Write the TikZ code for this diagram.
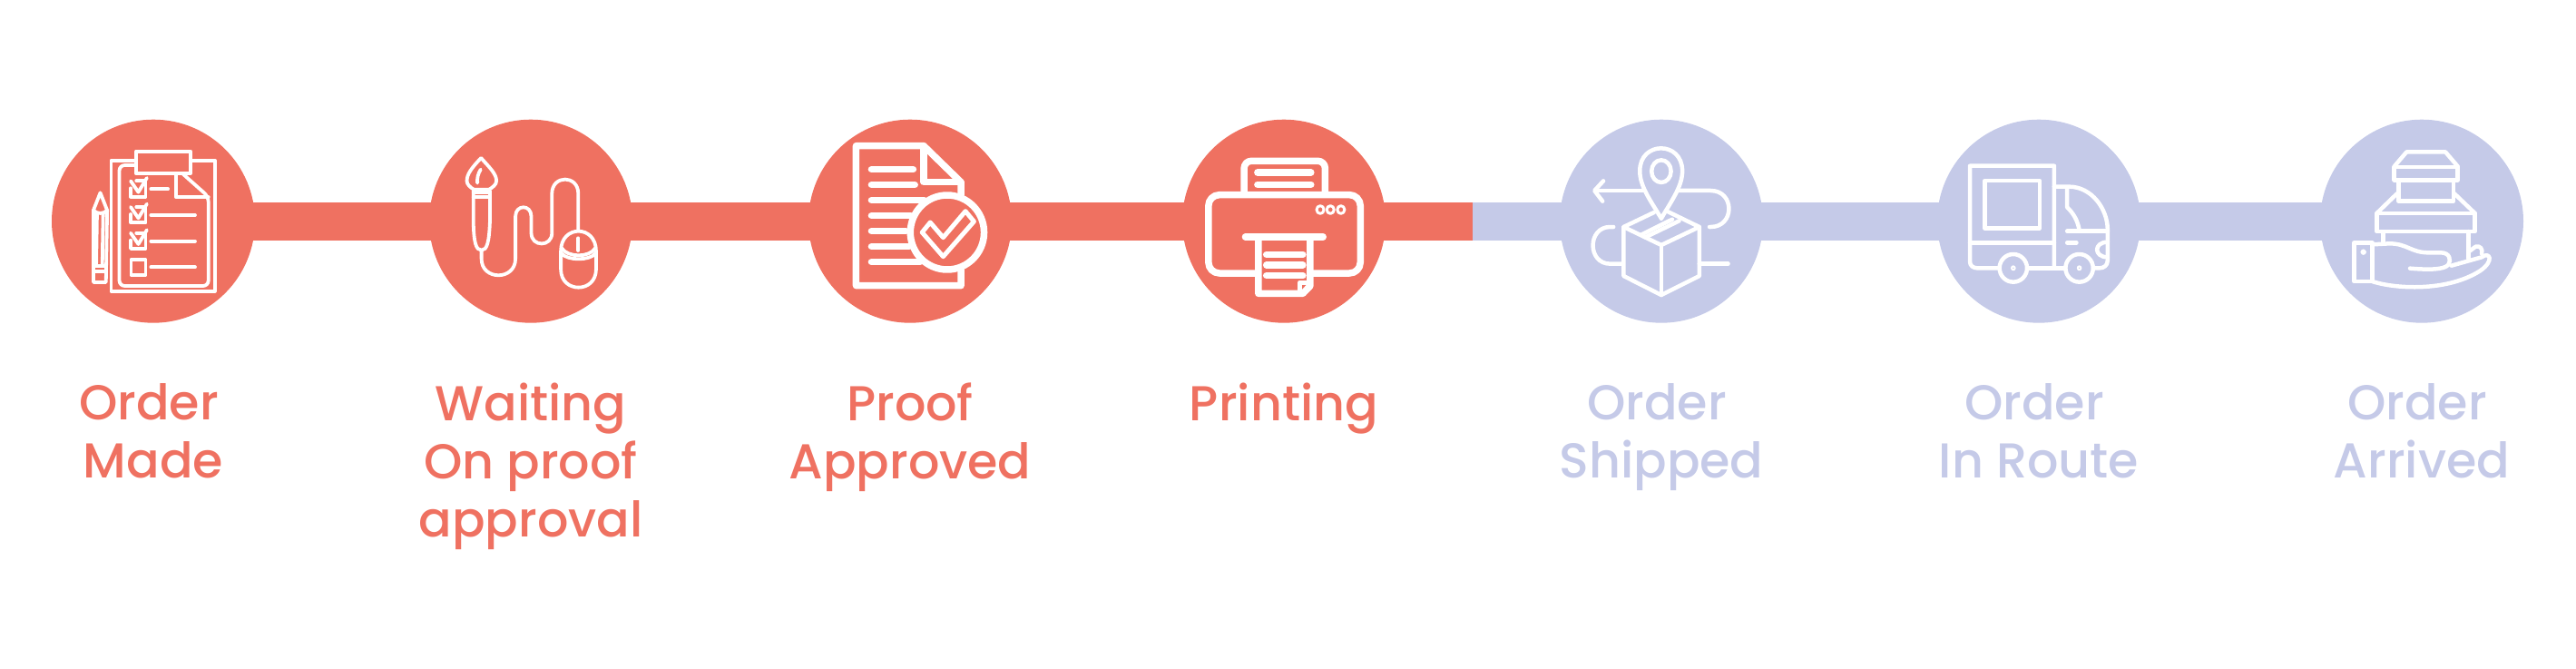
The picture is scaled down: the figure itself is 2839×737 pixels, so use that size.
\documentclass[tikz,border=0pt]{standalone}
\usepackage{fontspec}
\setmainfont{Poppins Medium}
\definecolor{doneRed}{HTML}{EF7161}
\definecolor{todoBlue}{HTML}{C5CAE8}
\tikzset{
  stepdot/.style={circle, minimum size=112pt, inner sep=0pt, fill=#1},
  stepbar/.style={draw=#1, line width=21pt},
  steplabel/.style={anchor=north, inner sep=0pt, align=center, text=#1, font=\fontsize{27pt}{32pt}\selectfont},
  wideicon/.style={x=0.2232pt, y=-0.16667pt},
  flaticon/.style={x=0.16667pt, y=-0.16667pt},
  iconline/.style={draw=white, line width=#1, line join=round, line cap=round},
  iconline/.default=1.75pt
}
\newcommand{\ordword}{Order\hspace*{5pt}}
\begin{document}
\begin{tikzpicture}[x=0.5pt, y=-0.5pt, node distance=208pt]
\useasboundingbox (0,0) rectangle (2839,737);
\node[stepdot=doneRed] (made) at (169,243.7) {};
\node[stepdot=doneRed] (wait) [right of=made] {};
\node[stepdot=doneRed] (proof) [right of=wait, xshift=1pt] {};
\node[stepdot=doneRed] (print) [right of=proof, xshift=-2pt] {};
\node[stepdot=todoBlue] (ship) [right of=print] {};
\node[stepdot=todoBlue] (route) [right of=ship] {};
\node[stepdot=todoBlue] (arrive) [right of=route, xshift=3pt] {};
\coordinate (split) at (1623,243.7);
\draw[stepbar=doneRed] (made.center) -- (wait.center);
\draw[stepbar=doneRed] (wait.center) -- (proof.center);
\draw[stepbar=doneRed] (proof.center) -- (print.center);
\draw[stepbar=doneRed] (print.center) -- (split);
\draw[stepbar=todoBlue] (split) -- (ship.center);
\draw[stepbar=todoBlue] (ship.center) -- (route.center);
\draw[stepbar=todoBlue] (route.center) -- (arrive.center);
\begin{scope}[node distance=89pt]
\node (madetxt) [below of=made, steplabel=doneRed] {\ordword\\Made};
\node (waittxt) [below of=wait, steplabel=doneRed] {Waiting\\On proof\\approval};
\node (prooftxt) [below of=proof, steplabel=doneRed] {Proof\\Approved};
\node (printtxt) [below of=print, steplabel=doneRed] {Printing};
\node (shiptxt) [below of=ship, steplabel=todoBlue] {\ordword\\Shipped};
\node (routetxt) [below of=route, steplabel=todoBlue] {\ordword\\In Route};
\node (arrivetxt) [below of=arrive, steplabel=todoBlue] {\ordword\\Arrived};
\end{scope}
\begin{scope}[shift={(40,110)}, wideicon, iconline=1.9pt]
\draw (246,200) -- (185,200) -- (185,632) -- (441,632) -- (441,200) -- (381,200);
\draw (246,170) rectangle (381,243);
\draw[rounded corners=3pt] (246,216) -- (205,216) -- (205,615) -- (425,615) -- (425,320) -- (362,245);
\draw (345,245) -- (345,322) -- (425,322);
\foreach \dy in {0,86,172} {
  \draw (247,268+\dy) -- (270,268+\dy) -- (270,320+\dy) -- (233,320+\dy) -- (233,292+\dy);
  \draw (233,268+\dy) -- (252,305+\dy) -- (273,258+\dy);
}
\draw (283,295) -- (325,295);
\foreach \ly in {381,467,553} \draw (283,\ly) -- (392,\ly);
\draw (234,528) rectangle (270,578);
\draw (141,365) -- (158,307) -- (175,365) -- (172,603) -- (141,603) -- cycle;
\draw (141,365) .. controls (150,378) and (166,378) .. (175,365);
\draw (150,375) -- (148,545);
\draw (165,375) -- (163,545);
\draw (141,548) -- (172,548);
\draw (141,568) -- (172,568);
\draw (1098,192) .. controls (1075,225) and (1063,245) .. (1063,268) .. controls (1063,280) and (1072,290) .. (1080,296) -- (1118,296) .. controls (1126,290) and (1136,280) .. (1136,268) .. controls (1136,245) and (1120,225) .. (1098,192);
\draw (1097,230) .. controls (1090,245) and (1088,260) .. (1089,275);
\draw (1079,300) -- (1079,400) .. controls (1080,470) and (1085,497) .. (1099,497) .. controls (1113,497) and (1118,470) .. (1120,400) -- (1120,300);
\draw (1079,305) -- (1120,305);
\draw (1079,322) -- (1120,322);
\draw (1099,497) -- (1099,525) .. controls (1099,598) and (1183,598) .. (1183,525) -- (1183,385) .. controls (1183,345) and (1222,345) .. (1222,385) -- (1222,440) .. controls (1222,487) and (1273,487) .. (1273,440) -- (1273,310) .. controls (1273,247) and (1338,247) .. (1338,310) -- (1338,432);
\draw (1295,500) .. controls (1295,412) and (1382,412) .. (1382,500) -- (1382,560) .. controls (1382,640) and (1295,640) .. (1295,560) -- cycle;
\draw (1338,457) -- (1338,498);
\draw (1297,490) .. controls (1312,522) and (1366,522) .. (1380,490);
\draw (1297,508) .. controls (1312,532) and (1366,532) .. (1380,508);
\end{scope}
\begin{scope}[shift={(860,110)}, wideicon, iconline=3.75pt]
\draw (446,315) -- (446,272) -- (354,152) -- (187,152) -- (187,614) -- (446,614) -- (446,561);
\draw (354,152) -- (354,272) -- (446,272);
\draw (225,230) -- (328,230);
\draw (225,281) -- (332,281);
\draw (225,332) -- (355,332);
\draw (225,383) -- (322,383);
\draw (225,434) -- (310,434);
\draw (225,485) -- (318,485);
\draw (225,536) -- (345,536);
\draw (412,438) ellipse[x radius=91, y radius=123];
\draw[line width=2.5pt] (370,405) -- (402,455) -- (457,368) -- (478,402) -- (402,518) -- (350,438) -- cycle;
\draw[rounded corners=4pt] (1145,312) -- (1145,202) -- (1345,202) -- (1345,312);
\draw (1178,240) -- (1310,240);
\draw (1178,280) -- (1310,280);
\draw[rounded corners=6pt] (1178,573) -- (1057,573) -- (1057,314) -- (1432,314) -- (1432,573) -- (1308,573);
\draw[line width=1.5pt] (1333,363) ellipse[x radius=9, y radius=13];
\draw[line width=1.5pt] (1358,363) ellipse[x radius=9, y radius=13];
\draw[line width=1.5pt] (1384,363) ellipse[x radius=9, y radius=13];
\draw (1148,453) -- (1340,453);
\draw (1180,462) -- (1180,640) -- (1290,640) -- (1308,615) -- (1308,462);
\draw[line width=2.5pt] (1308,603) -- (1282,603) -- (1282,632);
\draw (1200,511) -- (1290,511);
\draw (1200,546) -- (1290,546);
\draw (1200,581) -- (1290,581);
\end{scope}
\begin{scope}[shift={(1680,110)}, wideicon, iconline=2.25pt]
\draw (338,392) .. controls (310,330) and (285,285) .. (285,235) .. controls (285,135) and (390,135) .. (390,235) .. controls (390,285) and (365,330) .. (338,392);
\draw (338,236) ellipse[x radius=24, y radius=37];
\draw (295,300) -- (175,300);
\draw (195,268) -- (173,300) -- (193,335);
\draw (383,300) -- (460,300) .. controls (520,300) and (520,420) .. (460,420) -- (457,420);
\draw (220,420) -- (212,420) .. controls (155,420) and (155,542) .. (212,542) -- (243,542);
\draw (432,542) -- (503,542);
\draw (320,372) -- (245,420) -- (338,480) -- (432,420) -- (355,370);
\draw (245,420) -- (245,582) -- (338,645) -- (432,582) -- (432,420);
\draw (338,480) -- (338,645);
\draw (290,445) -- (365,395);
\draw (302,452) -- (382,400);
\draw (1170,556) -- (1118,556) .. controls (1108,556) and (1100,548) .. (1100,535) -- (1100,218) -- (1308,218) -- (1308,548);
\draw (1100,472) -- (1308,472);
\draw (1137,267) rectangle (1272,425);
\draw (1308,287) -- (1345,287) .. controls (1400,287) and (1440,360) .. (1440,430) -- (1440,530) .. controls (1440,548) and (1430,556) .. (1420,556) -- (1408,556);
\draw (1243,556) -- (1335,556);
\draw (1340,290) -- (1340,355) .. controls (1355,375) and (1365,395) .. (1370,430);
\draw (1340,434) -- (1440,434);
\draw (1340,472) -- (1363,472);
\draw (1440,470) .. controls (1405,470) and (1405,520) .. (1440,520);
\draw (1207,556) ellipse[x radius=34, y radius=46];
\draw (1370,556) ellipse[x radius=34, y radius=46];
\draw[line width=1pt] (1207,556) ellipse[x radius=4, y radius=6];
\draw[line width=1pt] (1370,556) ellipse[x radius=4, y radius=6];
\end{scope}
\begin{scope}[shift={(2400,110)}, flaticon, iconline=2.25pt]
\draw (716,265) rectangle (926,222);
\draw (716,220) -- (757,172) -- (885,172) -- (926,220);
\draw (730,265) -- (730,335) -- (912,335) -- (912,265);
\draw (658,375) rectangle (983,435);
\draw (658,375) -- (725,310);
\draw (983,375) -- (915,310);
\draw (680,437) -- (680,470);
\draw (962,435) -- (962,525);
\draw (583,472) rectangle (643,600);
\draw (614,503) ellipse[x radius=3, y radius=3];
\draw (643,478) -- (700,475) .. controls (760,475) and (770,505) .. (830,505) -- (870,505) .. controls (900,505) and (905,530) .. (895,545) .. controls (880,562) and (830,562) .. (768,557);
\draw (643,600) .. controls (720,625) and (890,635) .. (1000,565) .. controls (1050,530) and (1030,500) .. (1005,520) -- (905,548);
\draw (965,500) -- (985,485) .. controls (1000,480) and (1010,495) .. (1005,508);
\end{scope}
\end{tikzpicture}
\end{document}
